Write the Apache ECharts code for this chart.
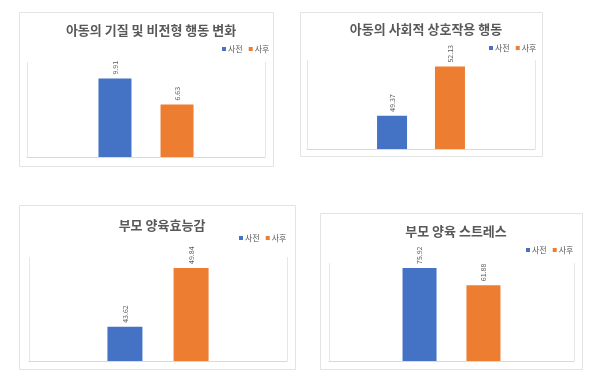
<!DOCTYPE html>
<html><head><meta charset="utf-8">
<script src="https://cdn.jsdelivr.net/npm/echarts@6/dist/echarts.min.js"></script>
<style>html,body{margin:0;padding:0;background:#fff}#c{width:600px;height:388px}</style>
</head><body><div id="c"></div>
<script>
var titles = ['아동의 기질 및 비전형 행동 변화', '아동의 사회적 상호작용 행동', '부모 양육효능감', '부모 양육 스트레스'];
var seriesNames = ['사전', '사후'];
var preValues = [9.91, 49.37, 43.62, 75.92];
var postValues = [6.63, 52.13, 49.84, 61.88];
var axisMin = [0, 47.5, 40, 0];
var axisMax = [12, 52.5, 51, 80];

var FONT = '"Noto Sans CJK KR","Noto Sans",sans-serif';
var frames = [[19,12,254,154],[300,12,242,144],[19,205,276,164],[320,213,262,156]];
var grids = [[27,62,238,95],[307,60,228,89],[29,257,258,104],[329,263,245,98]];
var titlePos = [[146,19],[421,18],[157,214],[451,220]];
var legendPos = [[217,40],[484,39],[234,229],[521,241]];
var barW = [33,30,35,34];
var barGaps = ['88%','93%','89%','88%'];
var colors = ['#4472C4','#ED7D31'];

var option = {animation:false, backgroundColor:'#fff', title:[], legend:[], grid:[], xAxis:[], yAxis:[], series:[], graphic:[]};
for (var i=0;i<4;i++){
  var f=frames[i];
  option.graphic.push({type:'rect', shape:{x:f[0]+0.5,y:f[1]+0.5,width:f[2],height:f[3]}, style:{fill:'none',stroke:'#e3e3e3',lineWidth:1}, z:-1});
  option.title.push({text:titles[i], left:titlePos[i][0], top:titlePos[i][1], textAlign:'center',
    textStyle:{fontFamily:FONT,fontSize:13,fontWeight:'bold',color:'#595959'}});
  option.legend.push({data:seriesNames, left:legendPos[i][0], top:legendPos[i][1], itemWidth:4, itemHeight:4, itemGap:6, icon:'rect',
    textStyle:{fontFamily:FONT,fontSize:8,color:'#595959',padding:[0,0,0,-3]}});
  var g=grids[i];
  option.grid.push({left:g[0], top:g[1], width:g[2], height:g[3]});
  option.xAxis.push({type:'category', gridIndex:i, data:[titles[i]], axisLabel:{show:false}, axisTick:{show:false},
    axisLine:{lineStyle:{color:'#d9d9d9'}}, splitLine:{show:true, lineStyle:{color:'#e6e6e6'}}});
  option.yAxis.push({type:'value', gridIndex:i, min:axisMin[i], max:axisMax[i], show:false, splitLine:{show:false}});
  var vals=[preValues[i], postValues[i]];
  for (var s=0;s<2;s++){
    option.series.push({name:seriesNames[s], type:'bar', xAxisIndex:i, yAxisIndex:i, data:[vals[s]],
      barWidth:barW[i], barGap:barGaps[i], itemStyle:{color:colors[s]},
      label:{show:true, position:'top', rotate:90, align:'left', verticalAlign:'middle', distance:4,
        fontFamily:FONT, fontSize:7, color:'#595959', formatter:function(p){return p.value.toFixed(2);}}});
  }
}
var chart = echarts.init(document.getElementById('c'));
chart.setOption(option);
</script></body></html>
